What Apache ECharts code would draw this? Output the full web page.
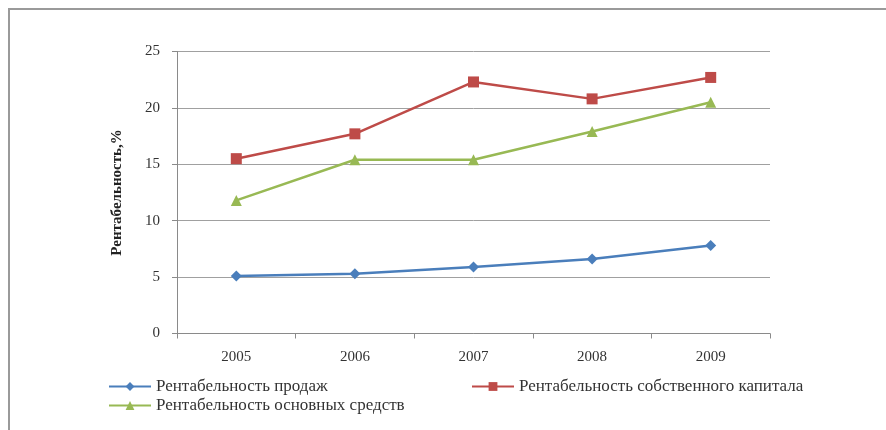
<!DOCTYPE html>
<html><head><meta charset="utf-8">
<script src="https://cdn.jsdelivr.net/npm/echarts@6/dist/echarts.min.js"></script>
<style>html,body{margin:0;padding:0;background:#fff}#c{width:886px;height:430px}</style>
</head><body><div id="c"></div>
<script>
const years = ['2005','2006','2007','2008','2009'];
const salesName = 'Рентабельность продаж';
const equityName = 'Рентабельность собственного капитала';
const assetsName = 'Рентабельность основных средств';
const salesValues = [5.1, 5.3, 5.9, 6.6, 7.8];
const equityValues = [15.5, 17.7, 22.3, 20.8, 22.7];
const assetsValues = [11.8, 15.4, 15.4, 17.9, 20.5];
const yTicks = [0, 5, 10, 15, 20, 25];
const yAxisTitle = 'Рентабельность,%';

const font = 'Liberation Serif';
const chart = echarts.init(document.getElementById('c'), null, {renderer:'canvas'});
const legendText = {fontFamily: font, fontSize: 17, color: '#333'};
chart.setOption({
  animation: false,
  backgroundColor: '#fff',
  graphic: [{type:'rect', shape:{x:9, y:9, width:900, height:450}, style:{fill:'none', stroke:'#9a9a9a', lineWidth:2}, silent:true}],
  grid: {left:177, right:116, top:51.5, bottom:96.5},
  legend: [
    {data:[salesName], left:103, top:373, itemWidth:42, itemHeight:11, textStyle:legendText, itemGap:4},
    {data:[equityName], left:466, top:373, itemWidth:42, itemHeight:11, textStyle:legendText, itemGap:4},
    {data:[assetsName], left:103, top:392, itemWidth:42, itemHeight:11, textStyle:legendText, itemGap:4}
  ],
  xAxis: {
    type:'category', data: years, boundaryGap:true,
    axisLine:{lineStyle:{color:'#8a8a8a', width:1}},
    axisTick:{show:true, length:5, lineStyle:{color:'#8a8a8a'}},
    axisLabel:{fontFamily:font, fontSize:15, color:'#333', margin:16}
  },
  yAxis: {
    type:'value', min: yTicks[0], max: yTicks[yTicks.length-1], interval: 5,
    name: yAxisTitle, nameLocation:'middle', nameGap:52, nameRotate:90,
    nameTextStyle:{fontFamily:font, fontSize:15, fontWeight:'bold', color:'#222'},
    axisLine:{show:true, lineStyle:{color:'#8a8a8a'}},
    axisTick:{show:true, length:5, lineStyle:{color:'#8a8a8a'}},
    axisLabel:{fontFamily:font, fontSize:15, color:'#333', margin:17},
    splitLine:{lineStyle:{color:'#a0a0a0', width:1}}
  },
  series: [
    {name:salesName, type:'line', data:salesValues, symbol:'diamond', symbolSize:11,
     lineStyle:{color:'#4a7ebb', width:2.5}, itemStyle:{color:'#4a7ebb'}},
    {name:equityName, type:'line', data:equityValues, symbol:'rect', symbolSize:11,
     lineStyle:{color:'#be4b48', width:2.5}, itemStyle:{color:'#be4b48'}},
    {name:assetsName, type:'line', data:assetsValues, symbol:'triangle', symbolSize:11,
     lineStyle:{color:'#98b954', width:2.5}, itemStyle:{color:'#98b954'}}
  ]
});
</script></body></html>
